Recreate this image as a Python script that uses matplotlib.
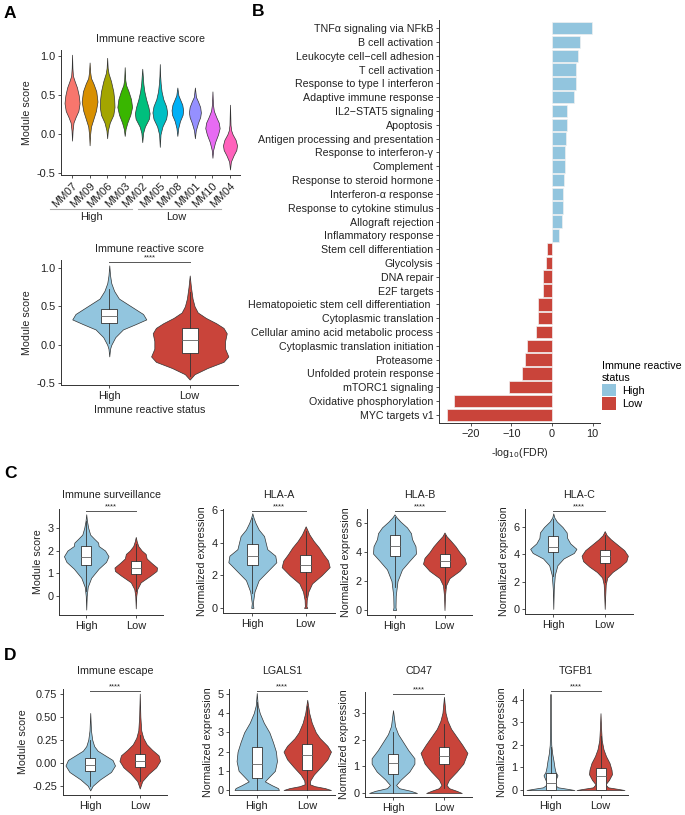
import matplotlib
matplotlib.use("Agg")
import matplotlib.pyplot as plt
import matplotlib.transforms as mtransforms
from matplotlib.patches import Patch
import numpy as np

plt.rcParams['font.family'] = ['Liberation Sans', 'DejaVu Sans']
plt.rcParams['font.size'] = 7.7
plt.rcParams['axes.unicode_minus'] = False

HIGH = '#92C5DE'
LOW = '#C9443A'
EDGE = '#333333'
TXT = '#222222'

# ---------------- panel A, per sample ----------------
samples = ['MM07', 'MM09', 'MM06', 'MM03', 'MM02', 'MM05', 'MM08', 'MM01', 'MM10', 'MM04']
sample_colors = ['#F8766D', '#D89000', '#A3A500', '#39B600', '#00BF7D',
                 '#00BFC4', '#00B0F6', '#9590FF', '#E76BF3', '#FF62BC']
# violin outlines as (score, half width)
mm07 = [(-0.08, 0), (0.05, 0.03), (0.15, 0.08), (0.22, 0.2), (0.3, 0.36), (0.4, 0.43),
        (0.5, 0.38), (0.6, 0.28), (0.68, 0.15), (0.75, 0.05), (0.85, 0.02), (1.02, 0)]
mm09 = [(-0.14, 0), (0.0, 0.03), (0.1, 0.08), (0.2, 0.22), (0.3, 0.36), (0.42, 0.45),
        (0.55, 0.38), (0.65, 0.22), (0.72, 0.08), (0.8, 0.03), (0.92, 0)]
mm06 = [(-0.05, 0), (0.05, 0.04), (0.15, 0.15), (0.25, 0.35), (0.35, 0.42), (0.45, 0.4),
        (0.55, 0.35), (0.68, 0.22), (0.78, 0.08), (0.85, 0.03), (0.98, 0)]
mm03 = [(-0.02, 0), (0.07, 0.05), (0.15, 0.15), (0.25, 0.32), (0.35, 0.42), (0.45, 0.36),
        (0.55, 0.22), (0.63, 0.08), (0.7, 0.03), (0.86, 0)]
mm02 = [(-0.1, 0), (0.02, 0.05), (0.1, 0.15), (0.2, 0.38), (0.27, 0.42), (0.35, 0.35),
        (0.45, 0.22), (0.55, 0.12), (0.65, 0.06), (0.75, 0.03), (0.84, 0)]
mm05 = [(-0.16, 0), (0.0, 0.04), (0.1, 0.15), (0.2, 0.36), (0.28, 0.42), (0.36, 0.36),
        (0.45, 0.2), (0.55, 0.1), (0.65, 0.05), (0.75, 0.02), (0.9, 0)]
mm08 = [(-0.02, 0), (0.08, 0.05), (0.17, 0.15), (0.25, 0.3), (0.31, 0.33), (0.38, 0.28),
        (0.45, 0.15), (0.5, 0.06), (0.6, 0)]
mm01 = [(-0.05, 0), (0.05, 0.05), (0.15, 0.18), (0.22, 0.3), (0.28, 0.34), (0.35, 0.3),
        (0.42, 0.18), (0.48, 0.06), (0.6, 0)]
mm10 = [(-0.3, 0), (-0.2, 0.04), (-0.1, 0.15), (0.0, 0.32), (0.08, 0.41), (0.15, 0.36),
        (0.22, 0.22), (0.3, 0.08), (0.38, 0.03), (0.55, 0)]
mm04 = [(-0.45, 0), (-0.35, 0.05), (-0.27, 0.2), (-0.2, 0.36), (-0.14, 0.4), (-0.07, 0.32),
        (0.0, 0.15), (0.05, 0.07), (0.12, 0.03), (0.38, 0)]
sample_shapes = [mm07, mm09, mm06, mm03, mm02, mm05, mm08, mm01, mm10, mm04]

groups = ['High', 'Low']

# ---------------- panel A, per status ----------------
irs_high = [(-0.15, 0), (-0.05, 0.01), (0.0, 0.025), (0.1, 0.075), (0.2, 0.17), (0.27, 0.33),
            (0.33, 0.46), (0.4, 0.42), (0.5, 0.27), (0.6, 0.12), (0.7, 0.06), (0.8, 0.025),
            (0.9, 0.01), (1.03, 0)]
irs_low = [(-0.45, 0), (-0.38, 0.06), (-0.3, 0.22), (-0.22, 0.42), (-0.15, 0.48), (-0.05, 0.44),
           (0.05, 0.44), (0.15, 0.46), (0.22, 0.42), (0.28, 0.33), (0.35, 0.2), (0.42, 0.1),
           (0.5, 0.06), (0.6, 0.035), (0.75, 0.015), (0.9, 0)]
# box stats: (q1, median, q3, whisker low, whisker high)
irs_box = [(0.28, 0.37, 0.46, 0.02, 0.73), (-0.1, 0.06, 0.22, -0.4, 0.68)]

# ---------------- panel B ----------------
pathways = ['TNFα signaling via NFkB', 'B cell activation', 'Leukocyte cell−cell adhesion',
            'T cell activation', 'Response to type I interferon', 'Adaptive immune response',
            'IL2−STAT5 signaling', 'Apoptosis', 'Antigen processing and presentation',
            'Response to interferon-γ', 'Complement', 'Response to steroid hormone',
            'Interferon-α response', 'Response to cytokine stimulus', 'Allograft rejection',
            'Inflammatory response', 'Stem cell differentiation', 'Glycolysis', 'DNA repair',
            'E2F targets', 'Hematopoietic stem cell differentiation ', 'Cytoplasmic translation',
            'Cellular amino acid metabolic process', 'Cytoplasmic translation initiation',
            'Proteasome', 'Unfolded protein response', 'mTORC1 signaling',
            'Oxidative phosphorylation', 'MYC targets v1']
log_fdr = [9.9, 7.0, 6.5, 6.0, 6.0, 5.4, 3.8, 3.6, 3.5, 3.2, 3.2, 3.0, 2.7, 2.6, 2.4, 1.7,
           -1.3, -1.6, -2.1, -2.1, -3.4, -3.5, -3.9, -6.1, -6.6, -7.4, -10.5, -24.1, -25.8]
pathway_status = ['High'] * 16 + ['Low'] * 13

# ---------------- panel C ----------------
surv_high = [(-0.6, 0), (0.0, 0.01), (0.4, 0.03), (0.8, 0.1), (1.2, 0.25), (1.5, 0.4), (1.75, 0.45),
             (2.0, 0.38), (2.2, 0.25), (2.35, 0.24), (2.5, 0.17), (2.7, 0.08), (3.0, 0.04),
             (3.3, 0.015), (3.6, 0)]
surv_low = [(-0.55, 0), (0.0, 0.01), (0.3, 0.03), (0.6, 0.1), (0.9, 0.3), (1.1, 0.42), (1.25, 0.43),
            (1.45, 0.32), (1.65, 0.22), (1.85, 0.2), (2.0, 0.12), (2.2, 0.05), (2.4, 0.02), (2.6, 0)]
surv_box = [(1.38, 1.72, 2.18, 0.2, 3.3), (0.97, 1.22, 1.52, 0.2, 2.3)]

hlaa_high = [(0, 0.02), (0.3, 0.01), (1.0, 0.04), (1.7, 0.12), (2.3, 0.3), (2.8, 0.45), (3.2, 0.43),
             (3.6, 0.28), (4.0, 0.25), (4.4, 0.22), (4.8, 0.12), (5.2, 0.06), (5.5, 0.025), (5.8, 0)]
hlaa_low = [(0, 0.03), (0.1, 0.015), (0.5, 0.02), (1.0, 0.05), (1.5, 0.12), (2.0, 0.3), (2.5, 0.45),
            (2.9, 0.42), (3.3, 0.33), (3.7, 0.25), (4.1, 0.15), (4.5, 0.07), (5.0, 0)]
hlaa_box = [(2.65, 3.2, 3.9, 0.9, 5.5), (2.2, 2.65, 3.25, 0.7, 4.7)]

hlab_high = [(0, 0.03), (0.2, 0.02), (1.0, 0.025), (2.0, 0.06), (2.8, 0.15), (3.4, 0.3), (3.9, 0.43),
             (4.4, 0.42), (4.9, 0.35), (5.3, 0.33), (5.7, 0.25), (6.1, 0.12), (6.4, 0.04), (6.6, 0)]
hlab_low = [(0, 0), (1.0, 0.01), (1.7, 0.03), (2.2, 0.1), (2.7, 0.3), (3.2, 0.43), (3.6, 0.4),
            (4.0, 0.3), (4.4, 0.22), (4.8, 0.12), (5.1, 0.04), (5.35, 0)]
hlab_box = [(3.7, 4.45, 5.15, 1.6, 6.4), (2.95, 3.4, 3.9, 1.5, 5.2)]

hlac_high = [(0, 0), (1.5, 0.01), (2.5, 0.03), (3.2, 0.08), (3.7, 0.2), (4.1, 0.4), (4.4, 0.45),
             (4.8, 0.33), (5.2, 0.27), (5.6, 0.26), (6.0, 0.18), (6.4, 0.07), (6.7, 0.02), (7.0, 0)]
hlac_low = [(0, 0), (1.0, 0.01), (1.8, 0.02), (2.3, 0.05), (2.7, 0.15), (3.1, 0.3), (3.5, 0.42),
            (3.9, 0.45), (4.3, 0.38), (4.7, 0.25), (5.1, 0.12), (5.4, 0.04), (5.7, 0)]
hlac_box = [(4.15, 4.55, 5.35, 2.4, 6.6), (3.35, 3.9, 4.35, 2.0, 5.4)]

# ---------------- panel D ----------------
esc_high = [(-0.3, 0), (-0.25, 0.05), (-0.18, 0.2), (-0.1, 0.42), (-0.03, 0.5), (0.03, 0.45),
            (0.08, 0.3), (0.13, 0.15), (0.18, 0.08), (0.25, 0.04), (0.35, 0.015), (0.54, 0)]
esc_low = [(-0.28, 0), (-0.2, 0.05), (-0.12, 0.18), (-0.05, 0.33), (0.02, 0.41), (0.08, 0.38),
           (0.14, 0.25), (0.2, 0.14), (0.27, 0.07), (0.35, 0.03), (0.5, 0.012), (0.75, 0)]
esc_box = [(-0.09, -0.02, 0.05, -0.25, 0.25), (-0.05, 0.02, 0.1, -0.2, 0.3)]

lgals1_high = [(0, 0.44), (0.1, 0.42), (0.25, 0.3), (0.45, 0.16), (0.7, 0.25), (1.0, 0.36), (1.5, 0.4),
               (2.0, 0.38), (2.5, 0.32), (3.0, 0.25), (3.5, 0.14), (4.0, 0.06), (4.4, 0.02), (5.05, 0)]
lgals1_low = [(0, 0.47), (0.1, 0.35), (0.2, 0.15), (0.3, 0.05), (0.5, 0.06), (0.8, 0.13), (1.2, 0.27),
              (1.6, 0.4), (2.0, 0.47), (2.3, 0.4), (2.7, 0.25), (3.0, 0.17), (3.5, 0.09), (4.0, 0.04),
              (4.7, 0)]
lgals1_box = [(0.65, 1.38, 2.25, 0.0, 4.6), (1.05, 1.82, 2.38, 0.0, 4.4)]

cd47_high = [(0, 0.47), (0.08, 0.35), (0.18, 0.12), (0.3, 0.06), (0.5, 0.15), (0.8, 0.32), (1.1, 0.42),
             (1.3, 0.42), (1.6, 0.3), (1.9, 0.2), (2.2, 0.1), (2.5, 0.04), (3.1, 0)]
cd47_low = [(0, 0.35), (0.08, 0.25), (0.18, 0.1), (0.3, 0.05), (0.5, 0.1), (0.8, 0.25), (1.1, 0.38),
            (1.5, 0.46), (1.8, 0.36), (2.1, 0.25), (2.4, 0.14), (2.7, 0.07), (3.0, 0.03), (3.6, 0)]
cd47_box = [(0.72, 1.12, 1.45, 0.0, 2.3), (1.07, 1.37, 1.72, 0.2, 2.6)]

tgfb1_high = [(0, 0.48), (0.05, 0.35), (0.12, 0.15), (0.25, 0.07), (0.45, 0.1), (0.65, 0.14), (0.8, 0.1),
              (1.0, 0.08), (1.3, 0.06), (1.6, 0.035), (2.0, 0.015), (3.0, 0.005), (4.25, 0)]
tgfb1_low = [(0, 0.48), (0.05, 0.35), (0.12, 0.15), (0.25, 0.1), (0.45, 0.17), (0.7, 0.23), (0.9, 0.22),
             (1.2, 0.18), (1.5, 0.11), (1.8, 0.06), (2.2, 0.025), (2.8, 0.01), (3.4, 0)]
tgfb1_box = [(0.0, 0.3, 0.77, 0.0, 1.9), (0.0, 0.6, 0.97, 0.0, 2.4)]


W, H = 685, 815
fig = plt.figure(figsize=(W / 100, H / 100), dpi=100)


def add_ax(l, t, r, b):
    return fig.add_axes([l / W, 1 - b / H, (r - l) / W, (b - t) / H])


def style(ax):
    for s in ['top', 'right']:
        ax.spines[s].set_visible(False)
    for s in ['left', 'bottom']:
        ax.spines[s].set_linewidth(0.7)
        ax.spines[s].set_color(EDGE)
    ax.tick_params(length=2.5, width=0.6, color=EDGE, labelcolor=TXT, labelsize=7.9, pad=1.5)


def violin(ax, pos, shape, color):
    y = np.array([p[0] for p in shape])
    w = np.array([p[1] for p in shape])
    ax.fill_betweenx(y, pos - w, pos + w, facecolor=color, edgecolor=EDGE, linewidth=0.5, zorder=2)


def boxes(ax, stats, positions=(1, 2)):
    st = [dict(q1=s[0], med=s[1], q3=s[2], whislo=s[3], whishi=s[4], fliers=[]) for s in stats]
    ax.bxp(st, positions=list(positions), widths=0.2, patch_artist=True, showcaps=False,
           manage_ticks=False,
           boxprops=dict(facecolor='white', edgecolor=EDGE, linewidth=0.6),
           medianprops=dict(color='#777777', linewidth=0.7),
           whiskerprops=dict(color=EDGE, linewidth=0.6), zorder=3)


def signif(ax, y=0.985):
    tr = mtransforms.blended_transform_factory(ax.transData, ax.transAxes)
    ax.plot([1, 2], [y, y], transform=tr, color='#555555', lw=0.7, clip_on=False)
    ax.text(1.5, y + 0.035, '****', transform=tr, ha='center', va='center', fontsize=5.5, color=TXT)


def two_group(box_px, title, ylabel, ylim, yticks, high, low, stats, pad=8, xlim=(0.45, 2.55)):
    ax = add_ax(*box_px)
    violin(ax, 1, high, HIGH)
    violin(ax, 2, low, LOW)
    boxes(ax, stats)
    ax.set_xlim(xlim)
    ax.set_ylim(ylim)
    ax.set_yticks(yticks)
    ax.set_xticks([1, 2])
    ax.set_xticklabels(groups)
    signif(ax)
    ax.set_title(title, pad=pad, fontsize=7.7, color=TXT)
    ax.set_ylabel(ylabel, color=TXT, labelpad=3)
    style(ax)
    return ax


# ---- A top ----
ax = add_ax(61, 50, 240, 175)
for i, (shape, col) in enumerate(zip(sample_shapes, sample_colors)):
    violin(ax, i, shape, col)
ax.set_xlim(-0.63, 9.57)
ax.set_ylim(-0.52, 1.08)
ax.set_yticks([-0.5, 0.0, 0.5, 1.0])
ax.set_xticks(range(len(samples)))
ax.set_xticklabels(samples, rotation=45, ha='right', va='top', rotation_mode='anchor')
ax.set_title('Immune reactive score', pad=6, fontsize=7.7, color=TXT)
ax.set_ylabel('Module score', color=TXT, labelpad=3)
style(ax)
tr = mtransforms.blended_transform_factory(ax.transData, ax.transAxes)
ax.plot([-1.26, 3.43], [-0.272, -0.272], transform=tr, color='#AAAAAA', lw=0.8, clip_on=False)
ax.plot([3.77, 8.46], [-0.272, -0.272], transform=tr, color='#AAAAAA', lw=0.8, clip_on=False)
ax.text(1.09, -0.34, 'High', transform=tr, ha='center', va='center', color=TXT, fontsize=7.9)
ax.text(5.94, -0.34, 'Low', transform=tr, ha='center', va='center', color=TXT, fontsize=7.9)

# ---- A bottom ----
ax = two_group((61, 260, 238, 385), 'Immune reactive score', 'Module score', (-0.52, 1.10),
               [-0.5, 0.0, 0.5, 1.0], irs_high, irs_low, irs_box, pad=6, xlim=(0.4, 2.6))
ax.set_xlabel('Immune reactive status', color=TXT, labelpad=3)

# ---- B ----
ax = add_ax(439, 20, 600, 423)
ypos = np.arange(len(pathways))
bar_cols = [HIGH if s == 'High' else LOW for s in pathway_status]
ax.barh(ypos, log_fdr, height=0.9, color=bar_cols, edgecolor='#F0F0F0', linewidth=0.5)
ax.set_ylim(len(pathways) - 0.4, -0.6)
ax.set_xlim(-27.8, 11.8)
ax.set_yticks(ypos)
ax.set_yticklabels(pathways)
ax.set_xticks([-20, -10, 0, 10])
ax.set_xticklabels(['−20', '−10', '0', '10'])
ax.set_xlabel('-log$_{10}$(FDR)', color=TXT, labelpad=5)
style(ax)
ax.tick_params(axis='y', labelsize=7.7)
leg = ax.legend(handles=[Patch(facecolor=HIGH, label='High'), Patch(facecolor=LOW, label='Low')],
                title='Immune reactive\nstatus', loc='upper left',
                bbox_to_anchor=(602 / W, 1 - 361 / H), bbox_transform=fig.transFigure,
                frameon=False, handlelength=1.3, handleheight=1.4, handletextpad=0.5,
                labelspacing=0.1, fontsize=7.9, title_fontsize=7.7, borderpad=0, borderaxespad=0)
leg._legend_box.align = 'left'

# ---- C ----
two_group((59, 509, 163, 615), 'Immune surveillance', 'Module score', (-0.84, 3.83), [0, 1, 2, 3],
          surv_high, surv_low, surv_box)
two_group((223, 509, 335, 613), 'HLA-A', 'Normalized expression', (-0.31, 6.06), [0, 2, 4, 6],
          hlaa_high, hlaa_low, hlaa_box)
two_group((367, 509, 472, 615), 'HLA-B', 'Normalized expression', (-0.34, 6.97), [0, 2, 4, 6],
          hlab_high, hlab_low, hlab_box)
two_group((525, 509, 633, 614), 'HLA-C', 'Normalized expression', (-0.37, 7.32), [0, 2, 4, 6],
          hlac_high, hlac_low, hlac_box)

# ---- D ----
ax = two_group((63, 689, 167, 795), 'Immune escape', 'Module score', (-0.35, 0.80),
               [-0.25, 0.0, 0.25, 0.5, 0.75], esc_high, esc_low, esc_box, pad=11)
ax.set_yticklabels(['-0.25', '0.00', '0.25', '0.50', '0.75'])
two_group((229, 689, 335, 795), 'LGALS1', 'Normalized expression', (-0.26, 5.26), [0, 1, 2, 3, 4, 5],
          lgals1_high, lgals1_low, lgals1_box, pad=11)
two_group((365, 692, 472, 797), 'CD47', 'Normalized expression', (-0.15, 3.78), [0, 1, 2, 3],
          cd47_high, cd47_low, cd47_box, pad=13)
two_group((523, 689, 628, 795), 'TGFB1', 'Normalized expression', (-0.22, 4.47), [0, 1, 2, 3, 4],
          tgfb1_high, tgfb1_low, tgfb1_box, pad=11)

# panel letters
for lab, x, y in [('A', 4, 14), ('B', 252, 12), ('C', 4, 474), ('D', 4, 656)]:
    fig.text(x / W, 1 - y / H, lab, fontsize=12.5, fontweight='bold', va='center', ha='left')

fig.savefig('out.png', dpi=100)
